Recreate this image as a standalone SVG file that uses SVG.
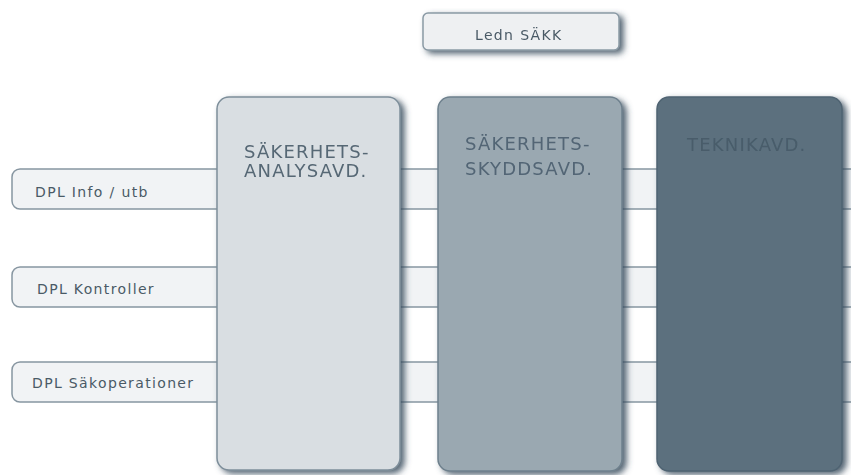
<svg xmlns="http://www.w3.org/2000/svg" width="851" height="475" viewBox="0 0 851 475">
<style>
.bar{fill:#f1f3f5;stroke:#8796a1;stroke-width:1.5}
.lbl{font-family:"DejaVu Sans","Liberation Sans",sans-serif;font-size:14px;letter-spacing:1.35px;fill:#4a5a66}
.col{stroke-width:1.5}
.ct{font-family:"DejaVu Sans","Liberation Sans",sans-serif;font-size:18px;letter-spacing:1.2px}
</style>
<defs>
<filter id="sh" x="-20%" y="-20%" width="150%" height="150%">
<feGaussianBlur in="SourceAlpha" stdDeviation="3"/>
<feOffset dx="4" dy="3" result="b"/>
<feFlood flood-color="#35495a" flood-opacity="0.85"/>
<feComposite in2="b" operator="in"/>
<feMerge><feMergeNode/><feMergeNode in="SourceGraphic"/></feMerge>
</filter>
</defs>
<rect width="851" height="475" fill="#fff"/>
<g id="connectors"></g>
<g id="bar-info"><rect class="bar" x="12" y="169" width="860" height="40" rx="8"/><text class="lbl" x="35" y="197">DPL Info / utb</text></g>
<g id="bar-kontroller"><rect class="bar" x="12" y="267" width="860" height="40" rx="8"/><text class="lbl" x="37" y="294">DPL Kontroller</text></g>
<g id="bar-sakop"><rect class="bar" x="12" y="362" width="860" height="40" rx="8"/><text class="lbl" x="32" y="388">DPL Säkoperationer</text></g>
<g id="ledn" filter="url(#sh)"><rect x="423" y="13" width="196" height="37" rx="5" fill="#eef0f2" stroke="#8a9aa5" stroke-width="1.5"/><text class="lbl" x="475" y="40" letter-spacing="1.8">Ledn SÄKK</text></g>
<g id="col-analys" filter="url(#sh)"><rect class="col" x="217" y="97" width="183" height="373" rx="12" fill="#d9dee2" stroke="#7d8e9a"/><text class="ct" x="244" y="158" fill="#566774">SÄKERHETS-</text><text class="ct" x="244" y="177" fill="#566774">ANALYSAVD.</text></g>
<g id="col-skydd" filter="url(#sh)"><rect class="col" x="438" y="97" width="184" height="374" rx="12" fill="#9aa8b1" stroke="#6e808d"/><text class="ct" x="465" y="150" fill="#526575">SÄKERHETS-</text><text class="ct" x="465" y="175" letter-spacing="1.1" fill="#526575">SKYDDSAVD.</text></g>
<g id="col-teknik" filter="url(#sh)"><rect class="col" x="657" y="97" width="185" height="374" rx="12" fill="#5b707e" stroke="#4f6372"/><text class="ct" x="687" y="151" letter-spacing="0.7" fill="#485c6a">TEKNIKAVD.</text></g>
</svg>
